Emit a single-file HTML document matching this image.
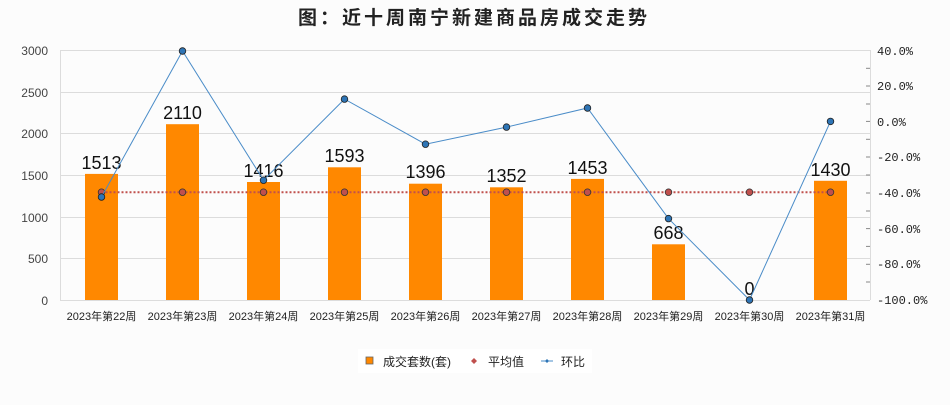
<!DOCTYPE html>
<html><head><meta charset="utf-8"><style>
body{margin:0;background:#fcfcfc;}
svg text{font-family:"Liberation Sans","Noto Sans CJK SC",sans-serif;}
svg text.mono{font-family:"Liberation Mono",monospace;}
</style></head><body>
<svg width="950" height="400" viewBox="0 0 950 400" xmlns="http://www.w3.org/2000/svg">
<rect width="950" height="400" fill="#fcfcfc"/>
<text x="474" y="24" text-anchor="middle" font-size="19" font-weight="bold" letter-spacing="3" fill="#222">图：近十周南宁新建商品房成交走势</text>
<g stroke="#dcdcdc" stroke-width="1">
<line x1="60" y1="50.5" x2="870" y2="50.5"/>
<line x1="60" y1="92.5" x2="870" y2="92.5"/>
<line x1="60" y1="133.5" x2="870" y2="133.5"/>
<line x1="60" y1="175.5" x2="870" y2="175.5"/>
<line x1="60" y1="217.5" x2="870" y2="217.5"/>
<line x1="60" y1="258.5" x2="870" y2="258.5"/>
<line x1="60" y1="300.5" x2="870" y2="300.5"/>
<line x1="60.5" y1="50" x2="60.5" y2="300"/>
<line x1="870.5" y1="50" x2="870.5" y2="300"/>
</g>
<g stroke="#888" stroke-width="1">
<line x1="866" y1="68.3" x2="870" y2="68.3"/><line x1="866" y1="86" x2="870" y2="86"/>
<line x1="866" y1="104" x2="870" y2="104"/><line x1="866" y1="121.4" x2="870" y2="121.4"/>
<line x1="866" y1="139.3" x2="870" y2="139.3"/><line x1="866" y1="157" x2="870" y2="157"/>
<line x1="866" y1="175" x2="870" y2="175"/><line x1="866" y1="193" x2="870" y2="193"/>
<line x1="866" y1="211" x2="870" y2="211"/><line x1="866" y1="228.6" x2="870" y2="228.6"/>
<line x1="866" y1="246.4" x2="870" y2="246.4"/><line x1="866" y1="264.3" x2="870" y2="264.3"/>
<line x1="866" y1="282" x2="870" y2="282"/>
</g>
<g font-size="12" fill="#444" text-anchor="end">
<text x="48" y="55">3000</text><text x="48" y="97">2500</text><text x="48" y="138">2000</text>
<text x="48" y="180">1500</text><text x="48" y="222">1000</text><text x="48" y="263">500</text><text x="48" y="305">0</text>
</g>
<g font-size="12" fill="#222">
<text class="mono" x="877" y="55">40.0%</text><text class="mono" x="877" y="90">20.0%</text><text class="mono" x="877" y="126">0.0%</text>
<text class="mono" x="877" y="161">-20.0%</text><text class="mono" x="877" y="197">-40.0%</text><text class="mono" x="877" y="233">-60.0%</text>
<text class="mono" x="877" y="268">-80.0%</text><text class="mono" x="877" y="304">-100.0%</text>
</g>
<g fill="#ff8800">
<rect x="85" y="173.9" width="33" height="126.1"/>
<rect x="166" y="124.2" width="33" height="175.8"/>
<rect x="247" y="182" width="33" height="118"/>
<rect x="328" y="167.3" width="33" height="132.7"/>
<rect x="409" y="183.7" width="33" height="116.3"/>
<rect x="490" y="187.3" width="33" height="112.7"/>
<rect x="571" y="178.9" width="33" height="121.1"/>
<rect x="652" y="244.3" width="33" height="55.7"/>
<rect x="814" y="180.8" width="33" height="119.2"/>
</g>
<g font-size="18" fill="#111" text-anchor="middle">
<text x="101.5" y="169">1513</text><text x="182.5" y="119">2110</text><text x="263.5" y="177">1416</text>
<text x="344.5" y="162">1593</text><text x="425.5" y="178">1396</text><text x="506.5" y="182">1352</text>
<text x="587.5" y="174">1453</text><text x="668.5" y="239">668</text><text x="749.5" y="295">0</text>
<text x="830.5" y="176">1430</text>
</g>
<line x1="101.5" y1="192.2" x2="830.5" y2="192.2" stroke="#c0504d" stroke-width="2" stroke-dasharray="2,2"/>
<g fill="#c0504d" stroke="#333" stroke-width="0.8">
<circle cx="101.5" cy="192.2" r="3.3"/><circle cx="182.5" cy="192.2" r="3.3"/><circle cx="263.5" cy="192.2" r="3.3"/>
<circle cx="344.5" cy="192.2" r="3.3"/><circle cx="425.5" cy="192.2" r="3.3"/><circle cx="506.5" cy="192.2" r="3.3"/>
<circle cx="587.5" cy="192.2" r="3.3"/><circle cx="668.5" cy="192.2" r="3.3"/><circle cx="749.5" cy="192.2" r="3.3"/>
<circle cx="830.5" cy="192.2" r="3.3"/>
</g>
<polyline fill="none" stroke="#4a8cc8" stroke-width="1" points="101.5,197 182.5,51 263.5,180.2 344.5,99.1 425.5,144.2 506.5,127.1 587.5,108 668.5,218.6 749.5,300 830.5,121.4"/>
<g fill="#2e75b6" stroke="#222" stroke-width="0.8">
<circle cx="101.5" cy="197" r="3.3"/><circle cx="182.5" cy="51" r="3.3"/><circle cx="263.5" cy="180.2" r="3.3"/>
<circle cx="344.5" cy="99.1" r="3.3"/><circle cx="425.5" cy="144.2" r="3.3"/><circle cx="506.5" cy="127.1" r="3.3"/>
<circle cx="587.5" cy="108" r="3.3"/><circle cx="668.5" cy="218.6" r="3.3"/><circle cx="749.5" cy="300" r="3.3"/>
<circle cx="830.5" cy="121.4" r="3.3"/>
</g>
<g font-size="11" fill="#222" text-anchor="middle">
<text x="101.5" y="320">2023年第22周</text><text x="182.5" y="320">2023年第23周</text><text x="263.5" y="320">2023年第24周</text>
<text x="344.5" y="320">2023年第25周</text><text x="425.5" y="320">2023年第26周</text><text x="506.5" y="320">2023年第27周</text>
<text x="587.5" y="320">2023年第28周</text><text x="668.5" y="320">2023年第29周</text><text x="749.5" y="320">2023年第30周</text>
<text x="830.5" y="320">2023年第31周</text>
</g>
<rect x="358" y="349" width="234" height="24" fill="#ffffff"/>
<rect x="366" y="357" width="7" height="7" fill="#ff8800" stroke="#666" stroke-width="0.8"/>
<text x="383" y="366" font-size="12" fill="#222">成交套数(套)</text>
<path d="M474,358 L477,361 L474,364 L471,361Z" fill="#c0504d"/>
<text x="488" y="366" font-size="12" fill="#222">平均值</text>
<line x1="541" y1="361" x2="553" y2="361" stroke="#4a8cc8" stroke-width="1"/>
<path d="M547,359 L549,361 L547,363 L545,361Z" fill="#2e75b6"/>
<text x="561" y="366" font-size="12" fill="#222">环比</text>
</svg>
</body></html>
